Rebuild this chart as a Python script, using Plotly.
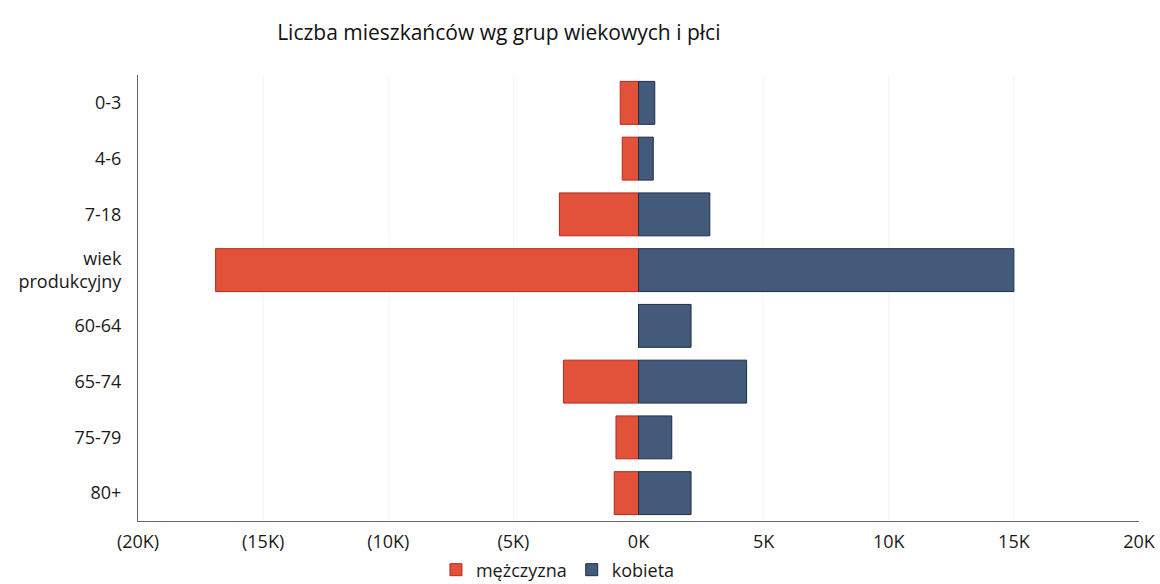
import plotly.graph_objects as go

# age groups, top to bottom as drawn
age_groups = ["0-3", "4-6", "7-18", "wiek<br>produkcyjny", "60-64", "65-74", "75-79", "80+"]
men = [730, 650, 3160, 16900, 0, 3000, 900, 970]
women = [650, 590, 2850, 15000, 2100, 4320, 1330, 2100]

tick_vals = [-20000, -15000, -10000, -5000, 0, 5000, 10000, 15000, 20000]
tick_text = ["(20K)", "(15K)", "(10K)", "(5K)", "0K", "5K", "10K", "15K", "20K"]

FONT = "Open Sans"

fig = go.Figure()
fig.add_trace(go.Bar(
    y=age_groups, x=[-v for v in men], orientation="h", name="mężczyzna",
    marker=dict(color="#e2513a", line=dict(color="#b8281c", width=1)),
))
fig.add_trace(go.Bar(
    y=age_groups, x=women, orientation="h", name="kobieta",
    marker=dict(color="#445a7a", line=dict(color="#1e2d48", width=1)),
))

fig.update_layout(
    width=1160, height=584,
    barmode="relative", bargap=0.23,
    paper_bgcolor="white", plot_bgcolor="white",
    font=dict(family=FONT, size=18, color="#1a1a1a"),
    margin=dict(l=138, r=21, t=75, b=63, autoexpand=False),
    title=dict(text="Liczba mieszkańców wg grup wiekowych i płci",
               x=0.43, xref="container", xanchor="center",
               y=0.9435, yref="container", yanchor="middle",
               font=dict(family=FONT, size=21, color="#111")),
    legend=dict(orientation="h", xref="container", yref="container",
                x=0.481, xanchor="center", y=0.024, yanchor="middle",
                font=dict(size=18), traceorder="normal"),
)
fig.update_xaxes(range=[-20000, 20000], tickvals=tick_vals, ticktext=tick_text,
                 showgrid=True, gridcolor="#f6f6f6", zeroline=False,
                 showline=True, linecolor="#666", linewidth=1, automargin=False,
                 ticklabelstandoff=4, tickfont=dict(size=18))
fig.update_yaxes(categoryorder="array", categoryarray=age_groups, autorange="reversed",
                 showgrid=False, showline=True, linecolor="#666", linewidth=1, automargin=False,
                 ticklabelstandoff=12, tickfont=dict(size=18))

# drop the default 8px body margin so the figure fills the window exactly
fig.write_html("out.html", config={"displayModeBar": False},
               post_script="document.body.style.margin='0';")
